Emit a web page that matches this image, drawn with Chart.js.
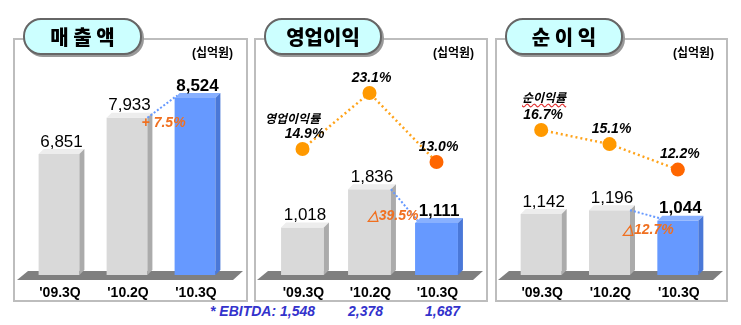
<!DOCTYPE html>
<html>
<head>
<meta charset="utf-8">
<script src="https://cdn.jsdelivr.net/npm/chart.js@4"></script>
<style>
body { margin: 0; background: #fff; width: 741px; height: 325px; position: relative; overflow: hidden; font-family: "Liberation Sans", Arial, sans-serif; }
.frame { position: absolute; top: 38px; height: 260px; border: 2px solid #BDBDBD; }
.pill { position: absolute; top: 18px; height: 33px; border: 2px solid #666; border-radius: 18px; background: #CCFFFF; box-shadow: 2px 2px 0 #999; text-align: center; font: 900 20px "Noto Sans CJK KR", sans-serif; line-height: 33px; z-index: 3; }
.unit { position: absolute; top: 43px; font: bold 12px "Liberation Sans", "Noto Sans CJK KR", sans-serif; z-index: 3; }
.sname { position: absolute; font: italic bold 12px "Noto Sans CJK KR", sans-serif; z-index: 3; }
canvas { position: absolute; top: 38px; z-index: 2; }
.ebitda { position: absolute; top: 303px; color: #3333CC; font: italic bold 14px "Liberation Sans", Arial, sans-serif; }
</style>
</head>
<body>
<div class="frame" style="left:13px;width:231px;"></div>
<div class="frame" style="left:254px;width:230px;"></div>
<div class="frame" style="left:495px;width:229px;"></div>

<div class="pill" style="left:23px;width:115px;">매 출 액</div>
<div class="pill" style="left:264px;width:114px;">영업이익</div>
<div class="pill" style="left:505px;width:114px;">순 이 익</div>

<div class="unit" style="left:192px;">(십억원)</div>
<div class="unit" style="left:433px;">(십억원)</div>
<div class="unit" style="left:673px;">(십억원)</div>

<div class="sname" style="left:265px;top:109px;">영업이익률</div>
<div class="sname" style="left:522px;top:88px;text-decoration:underline wavy #E03030;">순이익률</div>

<canvas id="salesChart" width="234" height="264" style="left:14px;"></canvas>
<canvas id="opChart" width="234" height="264" style="left:254px;"></canvas>
<canvas id="netChart" width="233" height="264" style="left:495px;"></canvas>

<div id="ebitdaRow"></div>

<script>
// data
const categories = ["'09.3Q", "'10.2Q", "'10.3Q"];
const salesValues = [6851, 7933, 8524];
const opProfitValues = [1018, 1836, 1111];
const opMarginValues = [14.9, 23.1, 13.0];
const netProfitValues = [1142, 1196, 1044];
const netMarginValues = [16.7, 15.1, 12.2];
const growthLabels = ['+ 7.5%', '△39.5%', '△12.7%'];
const ebitdaLabels = ['* EBITDA: 1,548', '2,378', '1,687'];

const DEPTH = 5;
const barColors = ['#D9D9D9', '#D9D9D9', '#6699FF'];
const topColors = ['#EDEDED', '#EDEDED', '#88B0FF'];
const sideColors = ['#ABABAB', '#ABABAB', '#4A78D8'];

const panel3d = {
    id: 'panel3d',
    beforeDatasetsDraw(chart) {
        const ctx = chart.ctx;
        const ca = chart.chartArea;
        const W = chart.width;
        // floor
        ctx.save();
        ctx.fillStyle = '#7F7F7F';
        ctx.beginPath();
        ctx.moveTo(3, ca.bottom + 5);
        ctx.lineTo(14, ca.bottom - 4);
        ctx.lineTo(W - 5, ca.bottom - 4);
        ctx.lineTo(W - 15, ca.bottom + 5);
        ctx.closePath();
        ctx.fill();
        ctx.restore();
    },
    afterDatasetDraw(chart, args) {
        if (args.index !== 0) return;
        const ctx = chart.ctx;
        const d = DEPTH;
        const bottom = chart.chartArea.bottom;
        args.meta.data.forEach((el, i) => {
            const x0 = el.x - el.width / 2, x1 = el.x + el.width / 2;
            const y = el.y, b = Math.min(el.base, bottom);
            ctx.save();
            ctx.fillStyle = topColors[i];
            ctx.beginPath();
            ctx.moveTo(x0, y); ctx.lineTo(x0 + d, y - d); ctx.lineTo(x1 + d, y - d); ctx.lineTo(x1, y);
            ctx.closePath(); ctx.fill();
            ctx.fillStyle = sideColors[i];
            ctx.beginPath();
            ctx.moveTo(x1, y); ctx.lineTo(x1 + d, y - d); ctx.lineTo(x1 + d, b - d); ctx.lineTo(x1, b);
            ctx.closePath(); ctx.fill();
            ctx.restore();
        });
    },
    afterDatasetsDraw(chart, args, opts) {
        const ctx = chart.ctx;
        const ca = chart.chartArea;
        const bars = chart.getDatasetMeta(0).data;
        const vals = chart.data.datasets[0].data;
        const d = DEPTH;
        ctx.save();
        ctx.textAlign = 'center';
        ctx.textBaseline = 'middle';
        // connector between last two bars
        const b2 = bars[1], b3 = bars[2];
        ctx.strokeStyle = '#6699FF';
        ctx.lineWidth = 2;
        ctx.setLineDash([2, 2]);
        ctx.beginPath();
        ctx.moveTo(b2.x + b2.width / 2, b2.y);
        ctx.lineTo(b3.x - b3.width / 2 + d / 2, b3.y - d / 2);
        ctx.stroke();
        ctx.setLineDash([]);
        // bar values and category labels
        bars.forEach((el, i) => {
            const last = i === bars.length - 1;
            ctx.fillStyle = '#000';
            ctx.font = last ? 'bold 17px "Liberation Sans", Arial' : '17px "Liberation Sans", Arial';
            ctx.fillText(vals[i].toLocaleString('en-US'), el.x + d / 2, el.y - d - 7);
            ctx.font = 'bold 14px "Liberation Sans", Arial';
            ctx.fillText(chart.data.labels[i], el.x + 1, ca.bottom + 18);
        });
        // growth label
        ctx.fillStyle = '#F07020';
        ctx.font = 'italic bold 14px "Liberation Sans", Arial';
        ctx.fillText(opts.growth, b3.x - b3.width / 2 + opts.gdx, b3.y + opts.gdy);
        // margin labels
        if (chart.data.datasets.length > 1) {
            const pts = chart.getDatasetMeta(1).data;
            const m = chart.data.datasets[1].data;
            ctx.fillStyle = '#000';
            ctx.font = 'italic bold 14px "Liberation Sans", Arial';
            pts.forEach((p, i) => {
                ctx.fillText(m[i].toFixed(1) + '%', p.x + 2, p.y - 15);
            });
        }
        ctx.restore();
    }
};

function makePanel(id, barValues, lineValues, cfg) {
    const datasets = [{
        type: 'bar',
        data: barValues,
        backgroundColor: barColors,
        borderWidth: 0,
        barPercentage: cfg.barPct,
        categoryPercentage: 1,
        yAxisID: 'y',
        order: 2
    }];
    if (lineValues) {
        datasets.push({
            type: 'line',
            data: lineValues,
            yAxisID: 'y2',
            borderColor: '#FFA31A',
            borderWidth: 2.5,
            borderDash: [2, 3],
            pointRadius: 7,
            pointBackgroundColor: ['#FF9900', '#FF9900', '#FF6600'],
            pointBorderWidth: 0,
            order: 1
        });
    }
    new Chart(document.getElementById(id), {
        data: { labels: categories, datasets: datasets },
        options: {
            responsive: false,
            animation: false,
            layout: { padding: { left: cfg.padL, right: cfg.padR, top: 22, bottom: 27 } },
            scales: {
                x: { display: false },
                y: { display: false, min: cfg.yMin, max: cfg.yMax },
                y2: { display: false, min: cfg.y2Min, max: cfg.y2Max }
            },
            plugins: {
                legend: { display: false },
                tooltip: { enabled: false },
                panel3d: { growth: cfg.growth, gdx: cfg.gdx, gdy: cfg.gdy }
            }
        },
        plugins: [panel3d]
    });
}

makePanel('salesChart', salesValues, null, {
    barPct: 0.6, padL: 11, padR: 19, yMin: 3236, yMax: 9660, y2Min: 0, y2Max: 1,
    growth: growthLabels[0], gdx: -11, gdy: 25
});
makePanel('opChart', opProfitValues, opMarginValues, {
    barPct: 0.64, padL: 15, padR: 18, yMin: 0, yMax: 4604, y2Min: -3.54, y2Max: 27.93,
    growth: growthLabels[1], gdx: -22, gdy: -7
});
makePanel('netChart', netProfitValues, netMarginValues, {
    barPct: 0.6, padL: 12, padR: 16, yMin: 251, yMax: 3390, y2Min: 0.21, y2Max: 24.67,
    growth: growthLabels[2], gdx: -9, gdy: 9
});

// EBITDA row under the operating profit panel
const ebitdaLeft = [210, 348, 425];
const row = document.getElementById('ebitdaRow');
ebitdaLabels.forEach((t, i) => {
    const s = document.createElement('span');
    s.className = 'ebitda';
    s.style.left = ebitdaLeft[i] + 'px';
    s.textContent = t;
    row.appendChild(s);
});
</script>
</body>
</html>
